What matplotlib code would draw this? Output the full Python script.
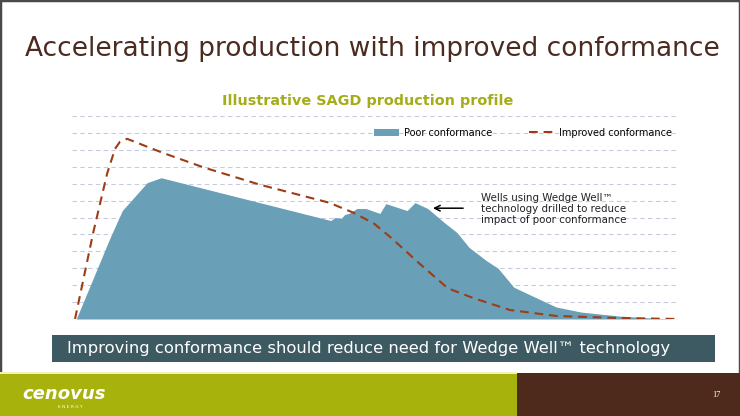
import matplotlib
matplotlib.use("Agg")
import matplotlib.pyplot as plt
from matplotlib.patches import Rectangle
from matplotlib.lines import Line2D
from matplotlib.patches import Patch

# ---- data (illustrative production, arbitrary units) ----
poor_x = [0.7, 6.3, 8.3, 12.4, 14.7, 42.7, 43.4, 44.4, 45.0, 45.7, 47.0, 48.5, 50.8, 51.8,
          55.3, 56.6, 58.7, 61.4, 63.5, 65.5, 68.3, 70.3, 72.9, 76.4, 79.9, 84.0, 90.1, 96.9, 100.0]
poor_y = [0.0, 4.82, 6.41, 8.06, 8.35, 5.82, 6.0, 5.94, 6.18, 6.24, 6.53, 6.53, 6.24, 6.82,
          6.41, 6.88, 6.53, 5.71, 5.12, 4.24, 3.47, 3.0, 1.88, 1.29, 0.71, 0.41, 0.18, 0.03, 0.0]

impr_x = [0.5, 3.5, 5.8, 7.1, 7.9, 9.1, 15.0, 21.9, 31.0, 42.4, 46.4, 49.8, 52.6, 57.3,
          62.0, 66.2, 72.3, 79.9, 90.1, 100.0]
impr_y = [0.0, 5.1, 8.6, 10.06, 10.47, 10.65, 9.82, 8.94, 7.94, 6.88, 6.29, 5.65, 4.82, 3.29,
          1.82, 1.24, 0.53, 0.18, 0.06, 0.0]

grid_levels = list(range(1, 13))

W, H = 740, 416
fig = plt.figure(figsize=(W / 100, H / 100), dpi=100)
fig.patch.set_facecolor("white")

def fx(px):
    return px / W

def fy(py):
    return 1 - py / H

# border
fig.add_artist(Rectangle((0, 0), 1, 1, transform=fig.transFigure, fill=False,
                         edgecolor="#4a4a4a", linewidth=2.5))

# slide title
fig.text(fx(25), fy(56), "Accelerating production with improved conformance",
         fontsize=19.0, color="#4b2a20", ha="left", va="baseline", family="DejaVu Sans")

# chart axes
ax = fig.add_axes([fx(72), fy(319), fx(678) - fx(72), fy(116) - fy(319)])
ax.set_xlim(0, 100)
ax.set_ylim(0, 12)
for g in grid_levels:
    ax.axhline(g, color="#c8cadf", linewidth=0.8, linestyle=(0, (4, 3)), zorder=0)
ax.fill_between(poor_x, poor_y, 0, color="#6a9fb8", linewidth=0, zorder=2)
ax.plot(impr_x, impr_y, color="#9c3d16", linewidth=1.5, dashes=(4.2, 2.8), zorder=3)
for s in ax.spines.values():
    s.set_visible(False)
ax.set_xticks([])
ax.set_yticks([])
ax.patch.set_alpha(0)

# chart title
fig.text(fx(368), fy(101), "Illustrative SAGD production profile", fontsize=10.4,
         fontweight="bold", color="#a4ad18", ha="center", va="center")

# legend
handles = [Patch(facecolor="#6a9fb8", edgecolor="none", label="Poor conformance"),
           Line2D([0], [0], color="#9c3d16", linewidth=1.5, dashes=(4.2, 2.8),
                  label="Improved conformance")]
leg = fig.legend(handles=handles, loc="center left", bbox_to_anchor=(fx(365), fy(133)),
                 ncol=2, frameon=False, fontsize=7, handlelength=2.6, handleheight=0.8,
                 columnspacing=3.8, handletextpad=0.5)

# annotation
ax.annotate("", xy=(59.1, 6.55), xytext=(65.0, 6.55),
            arrowprops=dict(arrowstyle="->", color="black", lw=1.1))
fig.text(fx(481), fy(209), "Wells using Wedge Well\u2122\ntechnology drilled to reduce\nimpact of poor conformance",
         fontsize=7.4, color="#222222", ha="left", va="center", linespacing=1.15)

# banner
fig.add_artist(Rectangle((fx(52), fy(362)), fx(715) - fx(52), fy(335) - fy(362),
                         transform=fig.transFigure, facecolor="#3d5a63", edgecolor="none"))
fig.text(fx(369), fy(349), "Improving conformance should reduce need for Wedge Well\u2122 technology",
         fontsize=11.75, color="white", ha="center", va="center")

# footer
fig.add_artist(Rectangle((0, 0), fx(517), fy(373), transform=fig.transFigure,
                         facecolor="#a8b20c", edgecolor="none"))
fig.add_artist(Rectangle((fx(517), 0), 1 - fx(517), fy(373), transform=fig.transFigure,
                         facecolor="#4d2a1c", edgecolor="none"))
fig.add_artist(Rectangle((0, fy(374)), fx(517), fy(372) - fy(374), transform=fig.transFigure,
                         facecolor="#f1f2b8", edgecolor="none"))
fig.text(fx(22), fy(394), "cenovus", fontsize=13, fontweight="bold", style="italic",
         color="white", ha="left", va="center")
fig.text(fx(58), fy(407), "E N E R G Y", fontsize=3.2, color="white", ha="left", va="center")
fig.text(fx(716), fy(395), "17", fontsize=6, color="white", ha="center", va="center",
         family="Liberation Serif")

fig.savefig("out.png", dpi=100)
